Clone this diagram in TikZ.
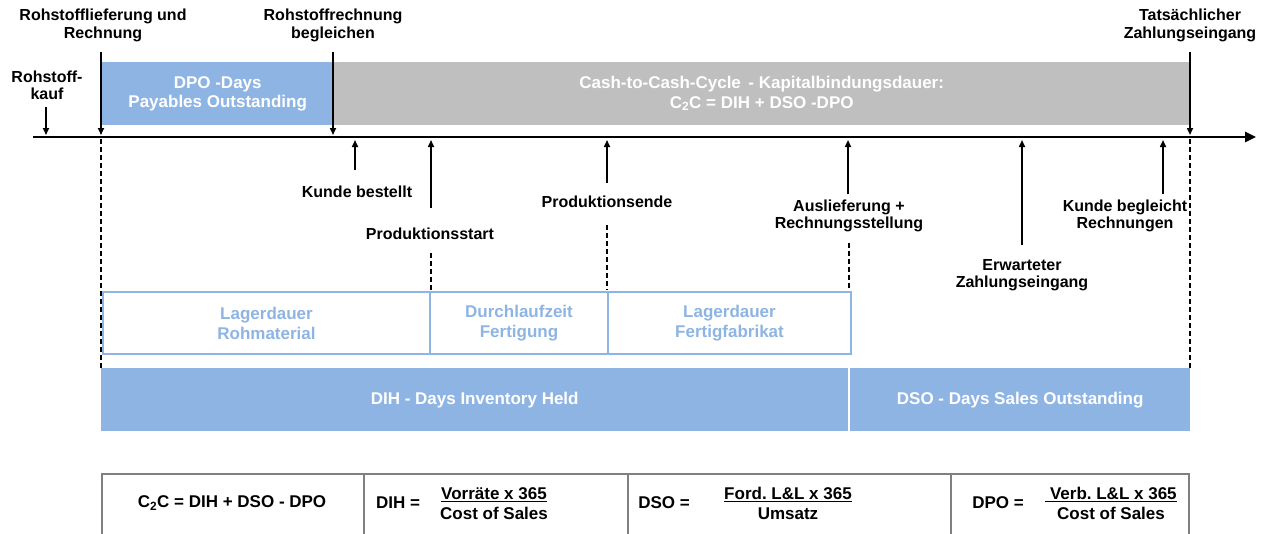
\documentclass[tikz,border=0pt]{standalone}
\usepackage{fontspec}
\setmainfont{Liberation Sans}
\usetikzlibrary{arrows.meta}
\definecolor{cblue}{RGB}{142,180,227}
\definecolor{cgray}{RGB}{191,191,191}
\definecolor{cborder}{RGB}{128,128,128}
\frenchspacing
\begin{document}
\begin{tikzpicture}[x=1pt,y=-1pt,
 lbl/.style={font=\fontsize{16}{17.5}\selectfont\bfseries, align=center, inner sep=0pt},
 big/.style={font=\fontsize{17}{19.5}\selectfont\bfseries, align=center, inner sep=0pt},
 wl/.style={big, text=white},
 bl/.style={font=\fontsize{17}{20}\selectfont\bfseries, align=center, inner sep=0pt, text=cblue},
 arr/.style={line width=1.6pt, -{Triangle[length=7pt,width=6pt]}},
 dsh/.style={line width=1.4pt, dash pattern=on 5pt off 3pt},
 fillbox/.style={inner sep=0pt, anchor=north west},
 lagbox/.style={draw=cblue, line width=2pt, inner sep=0pt, anchor=north west, minimum height=62pt, bl},
 cell/.style={draw=cborder, line width=2pt, inner sep=0pt, anchor=north west, minimum height=80pt},
]
\useasboundingbox (0,0) rectangle (1268,533);
\clip (0,0) rectangle (1268,533);
% top boxes
\node[fillbox, fill=cblue, minimum width=231pt, minimum height=63pt, wl] (dpo) at (102,62) {DPO -Days\\Payables Outstanding};
\node[fillbox, fill=cgray, minimum width=857pt, minimum height=63pt, wl] (c2c) at (333,62) {Cash-to-Cash-Cycle \,- Kapitalbindungsdauer:\\C\textsubscript{2}C = DIH + DSO -DPO};
% axis
\coordinate (axs) at (33,137);
\coordinate (axe) at (1256,137);
\draw[line width=2.5pt, -{Triangle[length=11pt,width=10pt]}] (axs) -- (axe);
% top labels
\node[lbl] (l1) at (103,25.5) {Rohstofflieferung und\\Rechnung};
\node[lbl] (l2) at (333,25.5) {Rohstoffrechnung\\begleichen};
\node[lbl] (l3) at (1190,25.5) {Tatsächlicher\\Zahlungseingang};
\node[lbl] (l0) at (47,85.5) {Rohstoff-\\kauf};
% down arrows
\coordinate (d0a) at (46,107); \coordinate (d0b) at (46,135);
\coordinate (d1a) at (101,52); \coordinate (d1b) at (101,135);
\coordinate (d2a) at (333,52); \coordinate (d2b) at (333,135);
\coordinate (d3a) at (1190,52); \coordinate (d3b) at (1190,135);
\draw[arr] (d0a) -- (d0b);
\draw[arr] (d1a) -- (d1b);
\draw[arr] (d2a) -- (d2b);
\draw[arr] (d3a) -- (d3b);
% up arrows
\coordinate (u1a) at (355,170); \coordinate (u1b) at (355,140);
\coordinate (u2a) at (431,208); \coordinate (u2b) at (431,140);
\coordinate (u3a) at (607,183); \coordinate (u3b) at (607,140);
\coordinate (u4a) at (848,194); \coordinate (u4b) at (848,140);
\coordinate (u5a) at (1022,245); \coordinate (u5b) at (1022,140);
\coordinate (u6a) at (1163,194); \coordinate (u6b) at (1163,140);
\foreach \i in {1,...,6} {\draw[arr] (u\i a) -- (u\i b);}
% lower labels
\node[lbl] (k1) at (357,192) {Kunde bestellt};
\node[lbl] (k2) at (430,234) {Produktionsstart};
\node[lbl] (k3) at (607,202) {Produktionsende};
\node[lbl] (k4) at (849,216) {Auslieferung +\\Rechnungsstellung};
\node[lbl] (k5) at (1022,275) {Erwarteter\\Zahlungseingang};
\node[lbl] (k6) at (1125,216) {Kunde begleicht\\Rechnungen};
% lager boxes
\node[lagbox, minimum width=327pt] (lr) at (102,291) {Lagerdauer\\Rohmaterial};
\node[lagbox, minimum width=178pt] (lf) at (429,291) {Durchlaufzeit\\Fertigung};
\node[lagbox, minimum width=243pt] (lg) at (607,291) {Lagerdauer\\Fertigfabrikat};
% dashed lines
\coordinate (s1a) at (101,139); \coordinate (s1b) at (101,368);
\coordinate (s2a) at (431,253); \coordinate (s2b) at (431,290);
\coordinate (s3a) at (607,225); \coordinate (s3b) at (607,290);
\coordinate (s4a) at (849,243); \coordinate (s4b) at (849,290);
\coordinate (s5a) at (1190,139); \coordinate (s5b) at (1190,368);
\foreach \i in {1,...,5} {\draw[dsh] (s\i a) -- (s\i b);}
% bars
\node[fillbox, fill=cblue, minimum width=747pt, minimum height=63pt, wl] (dih) at (101,368) {DIH - Days Inventory Held};
\node[fillbox, fill=cblue, minimum width=340pt, minimum height=63pt, wl] (dso) at (850,368) {DSO - Days Sales Outstanding};
% table
\node[cell, minimum width=262pt] (c1) at (101,473) {};
\node[cell, minimum width=264pt] (c2) at (363,473) {};
\node[cell, minimum width=323pt] (c3) at (627,473) {};
\node[cell, minimum width=238pt] (c4) at (950,473) {};
\node[big] (f1) at (232,503) {C\textsubscript{2}C = DIH + DSO - DPO};
\node[big] (f2a) at (398,503) {DIH =};
\node[big, font=\fontsize{17}{18}\selectfont\bfseries] (f2b) at (494,503.5) {\underline{Vorräte x 365}\\[2pt]Cost of Sales};
\node[big] (f3a) at (664,503) {DSO =};
\node[big, font=\fontsize{17}{18}\selectfont\bfseries] (f3b) at (788,503.5) {\underline{Ford. L\&L x 365}\\[2pt]Umsatz};
\node[big] (f4a) at (998,503) {DPO =};
\node[big, font=\fontsize{17}{18}\selectfont\bfseries] (f4b) at (1111,503.5) {\underline{\ Verb. L\&L x 365}\\[2pt]Cost of Sales};
\end{tikzpicture}
\end{document}
